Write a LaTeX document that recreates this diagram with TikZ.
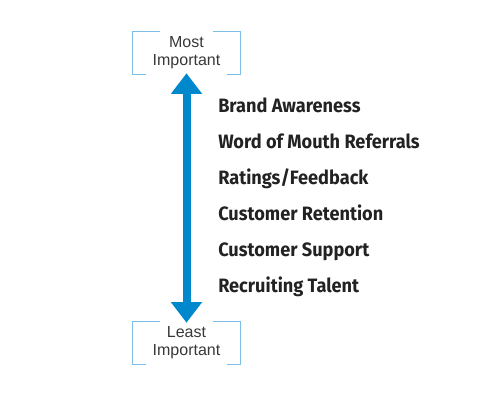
\documentclass[tikz,border=0pt]{standalone}
\usepackage{fontspec}
\setmainfont{Liberation Sans}
\newfontfamily\itemfont[FakeStretch=0.94]{Fira Sans}
\usetikzlibrary{arrows.meta,positioning}
\definecolor{arrowblue}{RGB}{0,136,204}
\definecolor{bracketblue}{RGB}{125,190,230}
\definecolor{itemgray}{RGB}{34,34,34}

\begin{document}
\begin{tikzpicture}[
          x=0.75pt, y=-0.75pt,
          endbox/.style={minimum width=81pt,minimum height=32pt,inner sep=0pt,
            align=center,font=\fontsize{12pt}{13.5pt}\selectfont,text=itemgray!90},
          bracket/.style={draw=bracketblue,line width=0.9pt},
          rankitem/.style={anchor=base west,inner sep=0pt,
            font=\itemfont\bfseries\fontsize{14.5pt}{16pt}\selectfont,text=itemgray}
        ]
        \useasboundingbox (0,0) rectangle (500,400);
        \node[endbox] (most)  at (186.5,53)  {Most\\Important};
        \node[endbox] (least) at (186.5,343) {Least\\Important};
        % corner brackets
        \foreach \b in {most,least} {
          \draw[bracket] ([xshift=21pt]\b.north west) -| (\b.south west) -- ++(14,0);
          \draw[bracket] ([xshift=-21pt]\b.north east) -| (\b.south east) -- ++(-14,0);
        }
        \draw[arrowblue,line width=6pt,{Triangle[width=22.5pt,length=15.5pt]}-{Triangle[width=22.5pt,length=15.5pt]}]
          ([yshift=1pt]most.south) -- ([yshift=-1pt]least.north);
        \node[rankitem] (brand)    at (218,112.3) {Brand Awareness};
        \node[rankitem] (word)     at (218,148.3) {Word of Mouth Referrals};
        \node[rankitem] (ratings)  at (218,184.3) {Ratings/Feedback};
        \node[rankitem] (retain)   at (218,220.3) {Customer Retention};
        \node[rankitem] (support)  at (218,256.3) {Customer Support};
        \node[rankitem] (recruit)  at (218,292.3) {Recruiting Talent};
        \end{tikzpicture}
\end{document}
